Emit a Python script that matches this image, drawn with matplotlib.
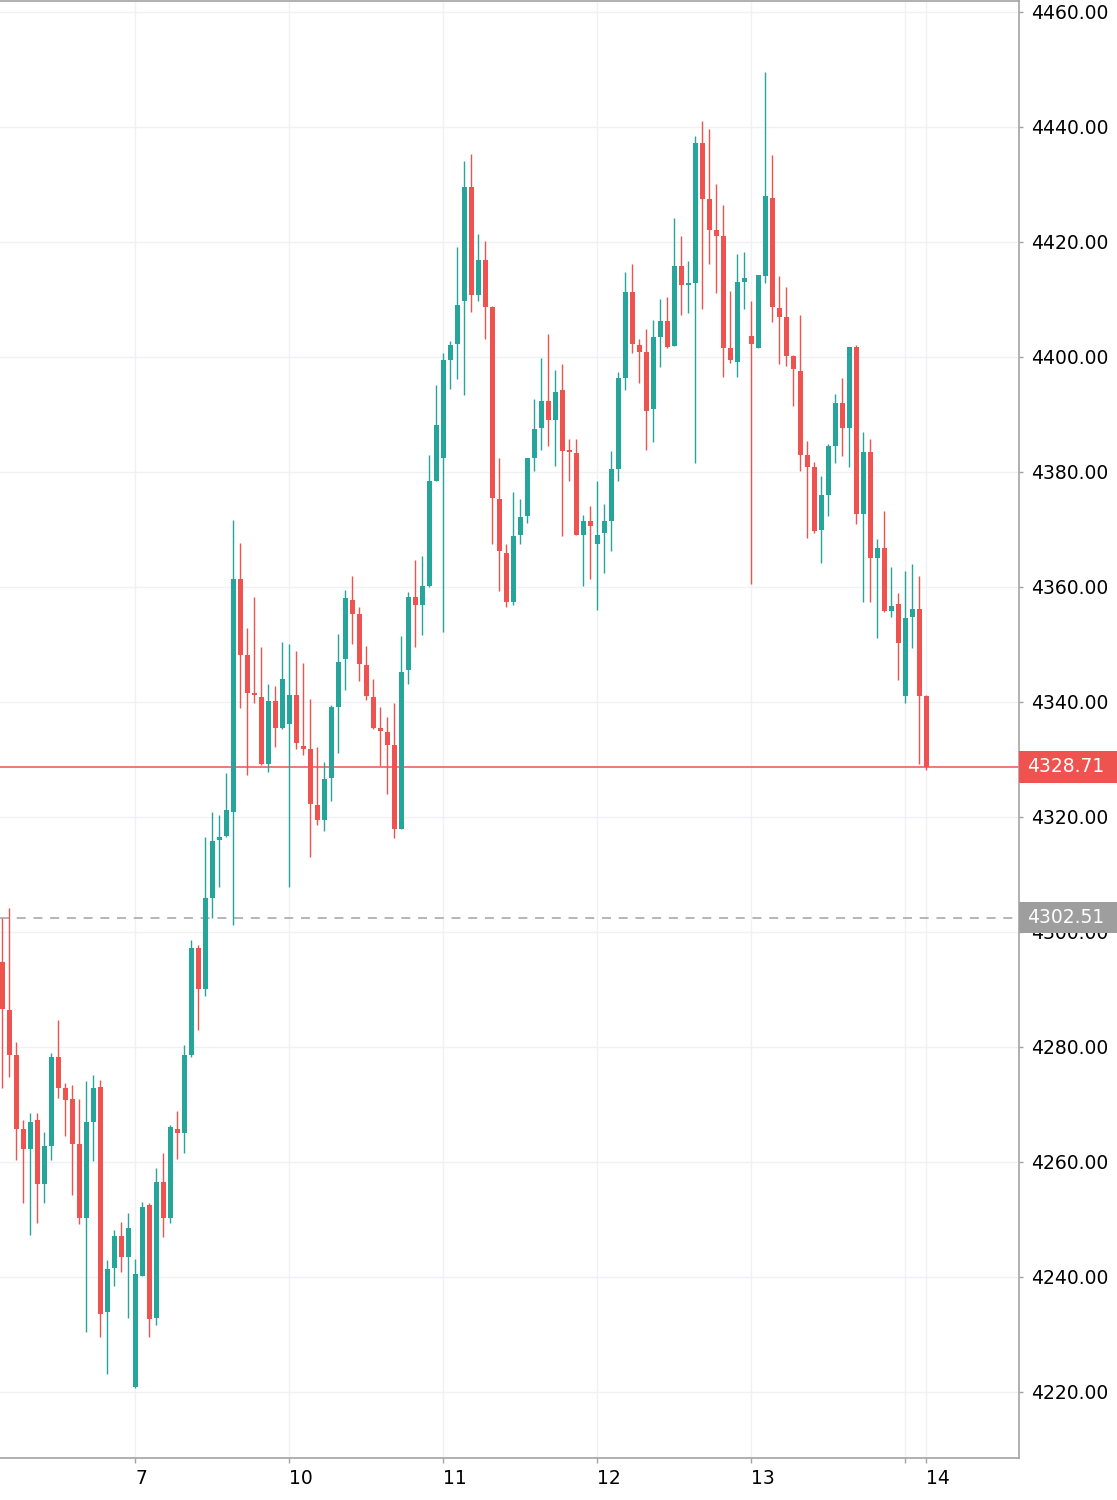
import numpy as np
import matplotlib
matplotlib.use("Agg")
import matplotlib.pyplot as plt
import matplotlib.transforms as mtransforms
from matplotlib.patches import Rectangle

# hourly bars left to right
opens = [
    4294.7, 4286.4, 4278.6, 4265.7, 4262.2, 4267.3, 4256.1, 4262.8, 4278.3, 4272.8,
    4270.9, 4263.1, 4250.3, 4267.0, 4273.0, 4233.9, 4241.5, 4247.2, 4243.4, 4220.9,
    4240.2, 4252.6, 4232.8, 4256.6, 4250.3, 4265.8, 4265.0, 4278.6, 4297.2, 4290.0,
    4305.9, 4316.0, 4316.7, 4320.9, 4361.4, 4348.1, 4341.6, 4340.9, 4329.2, 4340.1,
    4335.5, 4336.2, 4341.2, 4332.4, 4331.8, 4322.1, 4319.5, 4326.7, 4339.2, 4347.4,
    4357.7, 4355.3, 4346.4, 4340.9, 4335.5, 4334.8, 4332.5, 4317.9, 4345.6, 4358.3,
    4356.9, 4360.1, 4378.4, 4382.4, 4399.5, 4402.2, 4409.8, 4429.5, 4410.7, 4416.8,
    4408.6, 4375.3, 4365.9, 4357.4, 4369.0, 4372.3, 4382.4, 4387.6, 4392.4, 4389.0,
    4394.3, 4383.7, 4383.3, 4369.0, 4371.4, 4367.5, 4369.3, 4371.4, 4380.5, 4396.4,
    4411.3, 4402.1, 4400.9, 4390.9, 4403.4, 4406.2, 4401.9, 4415.9, 4412.5, 4412.8,
    4437.2, 4427.4, 4422.0, 4421.0, 4401.6, 4399.2, 4413.1, 4403.6, 4401.6, 4414.1,
    4427.7, 4408.5, 4407.0, 4400.1, 4397.6, 4383.0, 4380.8, 4369.9, 4376.0, 4384.5,
    4392.0, 4387.6, 4401.8, 4372.7, 4383.5, 4365.1, 4366.8, 4355.9, 4357.0, 4341.1,
    4354.7, 4356.1, 4341.0,
]
highs = [
    4302.4, 4304.1, 4280.9, 4267.3, 4268.5, 4268.5, 4265.2, 4278.9, 4284.7, 4273.7,
    4273.4, 4270.9, 4274.0, 4275.2, 4274.3, 4243.0, 4248.2, 4249.6, 4251.2, 4243.2,
    4253.0, 4252.8, 4259.0, 4261.6, 4266.4, 4268.8, 4280.3, 4298.6, 4297.7, 4316.5,
    4320.8, 4320.4, 4327.6, 4371.7, 4367.7, 4352.8, 4358.2, 4349.5, 4343.1, 4342.8,
    4350.4, 4350.0, 4348.9, 4346.7, 4340.6, 4332.1, 4329.6, 4339.5, 4351.8, 4359.5,
    4361.9, 4356.5, 4349.8, 4344.0, 4339.1, 4337.3, 4339.8, 4351.5, 4359.2, 4364.7,
    4365.3, 4383.0, 4395.1, 4400.6, 4402.8, 4419.2, 4434.1, 4435.3, 4421.3, 4420.2,
    4408.9, 4382.4, 4367.4, 4376.6, 4375.3, 4382.4, 4392.7, 4399.9, 4404.0, 4397.8,
    4398.8, 4385.7, 4385.7, 4372.6, 4374.1, 4378.4, 4374.4, 4383.7, 4397.3, 4414.7,
    4416.1, 4403.1, 4404.8, 4406.4, 4410.0, 4410.4, 4424.1, 4421.0, 4416.7, 4438.4,
    4441.1, 4439.6, 4430.1, 4426.4, 4411.5, 4417.9, 4418.2, 4409.7, 4414.3, 4449.6,
    4435.2, 4414.1, 4412.2, 4400.3, 4407.3, 4385.4, 4381.8, 4379.3, 4384.8, 4393.6,
    4396.3, 4401.8, 4402.1, 4386.9, 4385.7, 4368.3, 4373.2, 4363.4, 4358.9, 4362.8,
    4364.0, 4361.9, 4341.2,
]
lows = [
    4272.8, 4274.7, 4260.3, 4252.8, 4247.3, 4249.4, 4252.8, 4260.3, 4271.1, 4264.6,
    4254.3, 4249.2, 4230.5, 4260.1, 4229.6, 4223.2, 4238.4, 4240.9, 4232.9, 4220.7,
    4240.1, 4229.6, 4231.7, 4247.0, 4249.4, 4260.5, 4261.6, 4278.3, 4282.9, 4288.9,
    4302.4, 4307.9, 4316.5, 4301.2, 4338.9, 4327.3, 4339.8, 4329.1, 4327.9, 4332.2,
    4335.3, 4307.9, 4331.9, 4330.7, 4313.1, 4318.6, 4317.6, 4322.8, 4331.2, 4342.0,
    4350.1, 4343.7, 4340.4, 4335.3, 4328.8, 4324.0, 4316.4, 4317.9, 4343.1, 4349.5,
    4351.7, 4360.0, 4378.4, 4352.2, 4394.5, 4396.1, 4393.4, 4407.9, 4409.8, 4403.1,
    4367.5, 4359.3, 4356.6, 4356.9, 4367.5, 4371.1, 4380.2, 4383.9, 4384.5, 4381.1,
    4368.9, 4378.5, 4369.0, 4360.2, 4361.4, 4356.0, 4362.4, 4366.3, 4378.5, 4394.3,
    4400.6, 4395.5, 4383.9, 4385.2, 4398.2, 4401.5, 4401.9, 4407.3, 4407.6, 4381.5,
    4408.3, 4416.2, 4411.1, 4396.5, 4398.9, 4396.5, 4408.3, 4360.5, 4401.6, 4412.8,
    4406.1, 4398.8, 4398.4, 4391.5, 4380.2, 4368.6, 4369.3, 4364.1, 4372.3, 4381.5,
    4382.7, 4380.9, 4370.9, 4357.4, 4357.4, 4351.1, 4355.6, 4354.7, 4343.8, 4339.9,
    4349.3, 4329.2, 4328.2,
]
closes = [
    4286.6, 4278.6, 4265.8, 4262.2, 4267.0, 4256.1, 4262.8, 4278.3, 4272.8, 4270.7,
    4263.1, 4250.3, 4267.0, 4272.8, 4233.6, 4241.4, 4247.2, 4243.4, 4248.6, 4240.5,
    4252.1, 4232.7, 4256.6, 4250.3, 4266.0, 4265.0, 4278.6, 4297.2, 4290.0, 4305.9,
    4315.9, 4316.6, 4321.2, 4361.4, 4348.1, 4341.6, 4341.2, 4329.2, 4340.1, 4335.5,
    4344.0, 4341.2, 4332.8, 4331.9, 4322.2, 4319.5, 4326.6, 4339.2, 4347.0, 4358.0,
    4355.3, 4346.6, 4341.0, 4335.5, 4334.9, 4332.5, 4317.9, 4345.2, 4358.3, 4356.9,
    4360.2, 4378.4, 4388.2, 4399.5, 4402.1, 4409.1, 4429.5, 4410.8, 4416.8, 4408.6,
    4375.4, 4366.3, 4357.4, 4368.9, 4372.2, 4382.4, 4387.5, 4392.4, 4389.0, 4393.9,
    4383.7, 4383.4, 4369.0, 4371.4, 4370.6, 4369.0, 4371.4, 4380.5, 4396.4, 4411.3,
    4402.2, 4400.9, 4390.6, 4403.4, 4406.2, 4401.8, 4415.9, 4412.5, 4412.8, 4437.2,
    4427.5, 4422.0, 4421.1, 4401.6, 4399.5, 4413.1, 4413.7, 4402.2, 4414.3, 4428.0,
    4408.6, 4407.0, 4400.1, 4397.9, 4383.0, 4380.8, 4369.8, 4376.0, 4384.5, 4392.0,
    4387.6, 4401.8, 4372.7, 4383.5, 4365.1, 4366.8, 4355.8, 4356.7, 4350.2, 4354.6,
    4356.1, 4341.0, 4328.71,
]

day_ticks = [19, 41, 63, 85, 107, 129, 132]
day_labels = ["7", "10", "11", "12", "13", "", "14"]
price_ticks = list(range(4220, 4461, 20))
last_price = 4328.71
ref_price = 4302.51

UP = "#26a69a"
DOWN = "#ef5350"
TAG_GRAY = "#9e9e9e"
AXIS_GRAY = "#a3a3a3"

fig = plt.figure(figsize=(11.17, 15.0), dpi=100)
ax_left, ax_w = 0.0, 1019 / 1117
ax = fig.add_axes([ax_left, 0.028, ax_w, 0.97133])

o = np.array(opens)
h = np.array(highs)
l = np.array(lows)
c = np.array(closes)
x = np.arange(len(o))
colors = np.where(c >= o, UP, DOWN)

# wicks, then bodies (dojis get a 2px minimum)
ax.vlines(x, l, h, colors=colors, linewidth=1.0, zorder=3)
body_lo = np.minimum(o, c)
body_h = np.maximum(np.abs(c - o), 0.35)
ax.bar(x, body_h, bottom=body_lo, width=0.74, color=colors, linewidth=0, zorder=4)

ax.axhline(last_price, color=DOWN, linewidth=1.1, zorder=2)
ax.axhline(ref_price, color="#b5b5b5", linewidth=1.4, linestyle=(0, (4.6, 4)), zorder=2)

ax.set_xlim(-0.33, 145.24)
ax.set_ylim(4208.52, 4461.9)

ax.set_yticks(price_ticks)
ax.set_yticklabels([f"{p:.2f}" for p in price_ticks])
ax.set_xticks(day_ticks)
ax.set_xticklabels(day_labels)
for lab in ax.get_xticklabels():
    lab.set_horizontalalignment("left")

ax.grid(True, color="#f0f1f4", linewidth=1)
ax.set_axisbelow(True)

ax.yaxis.tick_right()
ax.tick_params(axis="y", which="both", left=False, right=True, labelleft=False,
               labelright=True, length=3, width=1, color=AXIS_GRAY, pad=6,
               labelsize=13.5, labelcolor="#000000")
ax.tick_params(axis="x", length=3.6, width=1, color=AXIS_GRAY, pad=4,
               labelsize=13.5, labelcolor="#000000")

ax.spines["left"].set_visible(False)
for side in ("right", "bottom", "top"):
    ax.spines[side].set_color(AXIS_GRAY)
    ax.spines[side].set_linewidth(1.2)

# price tags on the right scale
tag_tf = mtransforms.blended_transform_factory(fig.transFigure, ax.transData)
for price, col in [(last_price, DOWN), (ref_price, TAG_GRAY)]:
    ax.add_patch(Rectangle((ax_w, price - 2.75), 1 - ax_w, 5.5, transform=tag_tf,
                           facecolor=col, edgecolor="none", clip_on=False, zorder=6))
    ax.text(1027 / 1117, price, f"{price:.2f}", transform=tag_tf, color="white",
            fontsize=13.5, ha="left", va="center", zorder=7, clip_on=False)

fig.savefig("out.png", dpi=100)
